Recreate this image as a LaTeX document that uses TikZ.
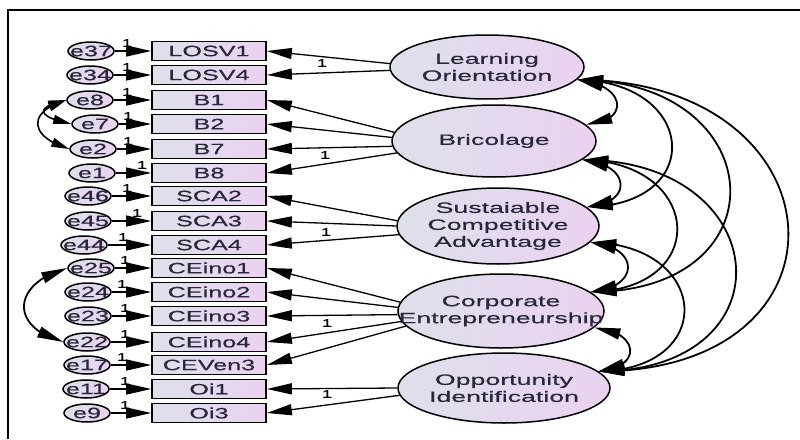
\documentclass[tikz,border=0pt]{standalone}
\usepackage{fontspec}
\newfontfamily\obsfont{Liberation Sans}[FakeStretch=1.68,FakeBold=0.5]
\newfontfamily\latfont{Liberation Sans}[FakeStretch=1.78,FakeBold=0.5]
\usetikzlibrary{arrows.meta,shapes.geometric,bending}

\definecolor{inkc}{RGB}{40,40,58}
\definecolor{fillL}{RGB}{222,224,236}
\definecolor{fillR}{RGB}{234,210,240}

\begin{document}
\begin{tikzpicture}[x=1pt,y=-1pt,
  obs/.style={rectangle, draw=black, line width=1.7pt, minimum width=114pt,
    minimum height=19pt, inner sep=0pt, left color=fillL, right color=fillR,
    text=inkc, font=\obsfont\fontsize{15}{15}\selectfont},
  err/.style={ellipse, draw=black, line width=1.5pt, minimum width=46pt,
    minimum height=18pt, inner sep=0pt, left color=fillL, right color=fillR},
  errtxt/.style={inner sep=0pt, text=inkc, font=\obsfont\fontsize{15}{15}\selectfont},
  latent/.style={ellipse, draw=black, line width=1.5pt, inner sep=0pt,
    left color=fillL, right color=fillR},
  lattxt/.style={inner sep=0pt, align=center, text=inkc,
    font=\latfont\fontsize{15}{17}\selectfont},
  one/.style={inner sep=0pt, text=black, font=\obsfont\fontsize{11}{11}\selectfont},
  lin/.style={line width=1.3pt, -{Triangle[length=25pt,width=11pt]}},
  cov/.style={line width=1.8pt, {Triangle[length=26pt,width=11pt]}-{Triangle[length=26pt,width=11pt]}},
  scov/.style={line width=1.6pt, {Triangle[length=18pt,width=9pt]}-{Triangle[length=18pt,width=9pt]}},
]
\useasboundingbox (0,0) rectangle (800,439);

% outer frame
\draw[line width=2.4pt] (8,439) -- (8,10) -- (800,10);

% latent variables
\node[latent, minimum width=194pt, minimum height=64pt] (lo)  at (487,67)  {};
\node[latent, minimum width=204pt, minimum height=72pt] (bri) at (494,141) {};
\node[latent, minimum width=202pt, minimum height=76pt] (sca) at (498,226) {};
\node[latent, minimum width=206pt, minimum height=74pt] (ce)  at (501,311) {};
\node[latent, minimum width=212pt, minimum height=70pt] (oi)  at (504,388) {};
\node[lattxt] (lot)  at (lo)  {Learning\\Orientation};
\node[lattxt] (brit) at (bri) {Bricolage};
\node[lattxt] (scat) at (sca) {Sustaiable\\Competitive\\Advantage};
\node[lattxt] (cet)  at (ce)  {Corporate\\Entrepreneurship};
\node[lattxt] (oit)  at (oi)  {Opportunity\\Identification};

% indicators with their error terms
\foreach \i/\nm/\ev/\ex/\ox/\yy in {
  1/LOSV1/e37/91/127/51, 2/LOSV4/e34/90/127/75, 3/B1/e8/90/127/100,
  4/B2/e7/95/128/124, 5/B7/e2/93/128/149, 6/B8/e1/92/142/173,
  7/SCA2/e46/88/127/196, 8/SCA3/e45/88/137/221, 9/SCA4/e44/84/123/245,
  10/CEino1/e25/91/125/268, 11/CEino2/e24/88/122/292, 12/CEino3/e23/88/125/316,
  13/CEino4/e22/87/125/342, 14/CEVen3/e17/87/122/365, 15/Oi1/e11/86/125/389,
  16/Oi3/e9/87/125/413}{
  \node[obs] (o\i) at (209,\yy) {\nm};
  \node[err] (e\i) at (\ex,\yy) {};
  \node[errtxt] (et\i) at (e\i) {\ev};
  \draw[lin] (e\i) -- (o\i);
  \node[one] (w\i) at (\ox,\yy-8) {1};
}

% loadings
\draw[lin] (lo.178) -- (o1.east);
\draw[lin] (lo.182) -- (o2.east);
\draw[lin] (bri.175) -- (o3.east);
\draw[lin] (bri.178) -- (o4.east);
\draw[lin] (bri.183) -- (o5.east);
\draw[lin] (bri.187) -- (o6.east);
\draw[lin] (sca.177) -- (o7.east);
\draw[lin] (sca.180) -- (o8.east);
\draw[lin] (sca.185) -- (o9.east);
\draw[lin] (ce.175) -- (o10.east);
\draw[lin] (ce.178) -- (o11.east);
\draw[lin] (ce.182) -- (o12.east);
\draw[lin] (ce.186) -- (o13.east);
\draw[lin] (ce.189) -- (o14.east);
\draw[lin] (oi.180) -- (o15.east);
\draw[lin] (oi.184) -- (o16.east);

\node[one] (wlo)  at (322,63)  {1};
\node[one] (wbri) at (325,155) {1};
\node[one] (wsca) at (326,232) {1};
\node[one] (wce)  at (327,323) {1};
\node[one] (woi)  at (327,394) {1};

% covariances among latent variables
\draw[cov] (lo.-8) .. controls +(47,4) and +(47,-4) .. (bri.10);
\draw[cov] (lo.-8) .. controls +(120,2) and +(120,-2) .. (sca.12);
\draw[cov] (lo.-8) .. controls +(195,0) and +(195,0) .. (ce.12);
\draw[cov] (lo.-8) .. controls +(267,0) and +(267,0) .. (oi.10);
\draw[cov] (bri.-12) .. controls +(48,4) and +(48,-4) .. (sca.12);
\draw[cov] (bri.-12) .. controls +(121,2) and +(121,-2) .. (ce.12);
\draw[cov] (bri.-12) .. controls +(194,0) and +(194,0) .. (oi.10);
\draw[cov] (sca.-10) .. controls +(50,4) and +(50,-4) .. (ce.12);
\draw[cov] (sca.-10) .. controls +(120,2) and +(120,-2) .. (oi.10);
\draw[cov] (ce.-10) .. controls +(45,4) and +(45,-4) .. (oi.10);

% covariances among error terms
\draw[scov] (e3.west) .. controls +(-40,12) and +(-40,-12) .. (e5.west);
\draw[scov] (e3.west) .. controls +(-36,8) and +(-30,-6) .. (e4.west);
\draw[cov] (e10.west) .. controls +(-55,15) and +(-55,-15) .. (e13.west);
\end{tikzpicture}
\end{document}
